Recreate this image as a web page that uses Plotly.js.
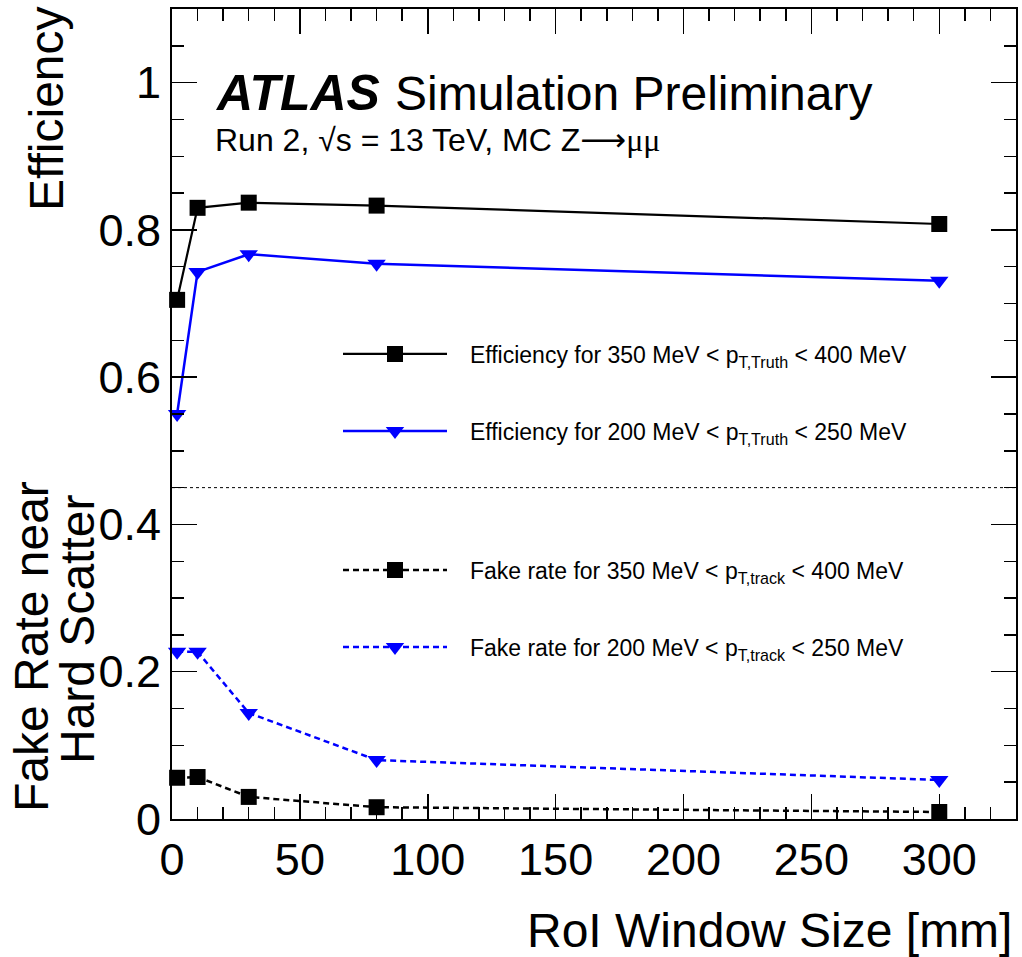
<!DOCTYPE html>
<html>
<head>
<meta charset="utf-8">
<script src="https://cdn.plot.ly/plotly-3.0.1.min.js"></script>
<style>html,body{margin:0;padding:0;background:#fff;}#chart{width:1022px;height:957px;}</style>
</head>
<body>
<div id="chart"></div>
<script>
// RoI window size [mm]
const roiSize = [2, 10, 30, 80, 300];
// Efficiency curves
const eff350 = [0.705, 0.830, 0.837, 0.833, 0.808];
const eff200 = [0.550, 0.743, 0.767, 0.754, 0.731];
// Fake-rate curves
const fake350 = [0.056, 0.057, 0.030, 0.016, 0.0095];
const fake200 = [0.227, 0.227, 0.144, 0.080, 0.053];
// Legend labels
const names = [
  'Efficiency for 350 MeV < p<sub>T,Truth</sub> < 400 MeV',
  'Efficiency for 200 MeV < p<sub>T,Truth</sub> < 250 MeV',
  'Fake rate for 350 MeV < p<sub>T,track</sub> < 400 MeV',
  'Fake rate for 200 MeV < p<sub>T,track</sub> < 250 MeV'
];
const xTicks = [0, 50, 100, 150, 200, 250, 300];
const yTicks = [0, 0.2, 0.4, 0.6, 0.8, 1];
const yTickText = ['0', '0.2', '0.4', '0.6', '0.8', '1'];

const FONT = 'Liberation Sans, Arial, Helvetica, sans-serif';
const BLUE = '#0000ff';
const PAD = '\u2002\u00a0';

function tr(y, name, color, symbol, size, dash, width, legend) {
  return {
    x: roiSize, y: y, name: PAD + name, type: 'scatter', mode: 'lines+markers',
    line: {color: color, width: width, dash: dash},
    marker: {color: color, symbol: symbol, size: size},
    legend: legend, showlegend: true, cliponaxis: false
  };
}

const data = [
  tr(eff350, names[0], '#000000', 'square', 16, 'solid', 2.2, 'legend'),
  tr(eff200, names[1], BLUE, 'triangle-down', 16, 'solid', 2.5, 'legend2'),
  tr(fake350, names[2], '#000000', 'square', 16, '6px,4px', 2.5, 'legend3'),
  tr(fake200, names[3], BLUE, 'triangle-down', 16, '6px,4px', 2.5, 'legend4')
];

const W = 844, H = 810, L = 172, T = 9;
function px(p) { return (p - L) / W; }
function py(p) { return (T + H - p) / H; }

const IW = 104;
function leg(yc) {
  return {x: px(395 - (IW + 10) / 2), y: py(yc), xanchor: 'left', yanchor: 'middle',
    bgcolor: 'rgba(0,0,0,0)', borderwidth: 0, itemwidth: IW,
    font: {family: FONT, size: 23, color: '#000'}};
}

const layout = {
  width: 1022, height: 957,
  margin: {l: L, r: 1022 - L - W, t: T, b: 957 - T - H},
  paper_bgcolor: '#fff', plot_bgcolor: '#fff',
  font: {family: FONT, color: '#000'},
  xaxis: {
    range: [0, 330], tickvals: xTicks, ticks: 'inside', ticklen: 25, tickwidth: 1.5,
    tickcolor: '#000', showline: true, linecolor: '#000', linewidth: 2, mirror: 'ticks',
    showgrid: false, zeroline: false, tickfont: {family: FONT, size: 45},
    minor: {dtick: 10, ticks: 'inside', ticklen: 12, tickwidth: 1.5, tickcolor: '#000', showgrid: false}
  },
  yaxis: {
    range: [0, 1.1], tickvals: yTicks, ticktext: yTickText, ticks: 'inside', ticklen: 25, tickwidth: 1.5,
    tickcolor: '#000', showline: true, linecolor: '#000', linewidth: 2, mirror: 'ticks',
    showgrid: false, zeroline: false, tickfont: {family: FONT, size: 45},
    minor: {dtick: 0.05, ticks: 'inside', ticklen: 12, tickwidth: 1.5, tickcolor: '#000', showgrid: false}
  },
  legend: leg(354), legend2: leg(431), legend3: leg(570), legend4: leg(647),
  shapes: [
    {type: 'line', xref: 'paper', yref: 'y', x0: 0, x1: 1, y0: 0.45, y1: 0.45,
     line: {color: '#000', width: 1, dash: 'dot'}}
  ],
  annotations: [
    {text: '<b><i>ATLAS</i></b>', xref: 'paper', yref: 'paper', x: px(213), y: py(93),
     xanchor: 'left', yanchor: 'middle', showarrow: false, font: {family: FONT, size: 50}},
    {text: 'Simulation Preliminary', xref: 'paper', yref: 'paper', x: px(393), y: py(93),
     xanchor: 'left', yanchor: 'middle', showarrow: false, font: {family: FONT, size: 48}},
    {text: 'Run 2, √s = 13 TeV, MC Z<span style="font-family:DejaVu Sans">⟶</span><span style="font-family:Liberation Serif">μμ</span>',
     xref: 'paper', yref: 'paper', x: px(213), y: py(140),
     xanchor: 'left', yanchor: 'middle', showarrow: false, font: {family: FONT, size: 32}},
    {text: 'Efficiency', xref: 'paper', yref: 'paper', x: px(46), y: py(109), textangle: -90,
     xanchor: 'center', yanchor: 'middle', showarrow: false, font: {family: FONT, size: 48}},
    {text: 'Fake Rate near', xref: 'paper', yref: 'paper', x: px(31), y: py(647), textangle: -90,
     xanchor: 'center', yanchor: 'middle', showarrow: false, font: {family: FONT, size: 48}},
    {text: 'Hard Scatter', xref: 'paper', yref: 'paper', x: px(77), y: py(630), textangle: -90,
     xanchor: 'center', yanchor: 'middle', showarrow: false, font: {family: FONT, size: 48}},
    {text: 'RoI Window Size [mm]', xref: 'paper', yref: 'paper', x: px(1014), y: py(931),
     xanchor: 'right', yanchor: 'middle', showarrow: false, font: {family: FONT, size: 48}}
  ]
};

Plotly.newPlot('chart', data, layout, {displayModeBar: false, staticPlot: true});
</script>
</body>
</html>
